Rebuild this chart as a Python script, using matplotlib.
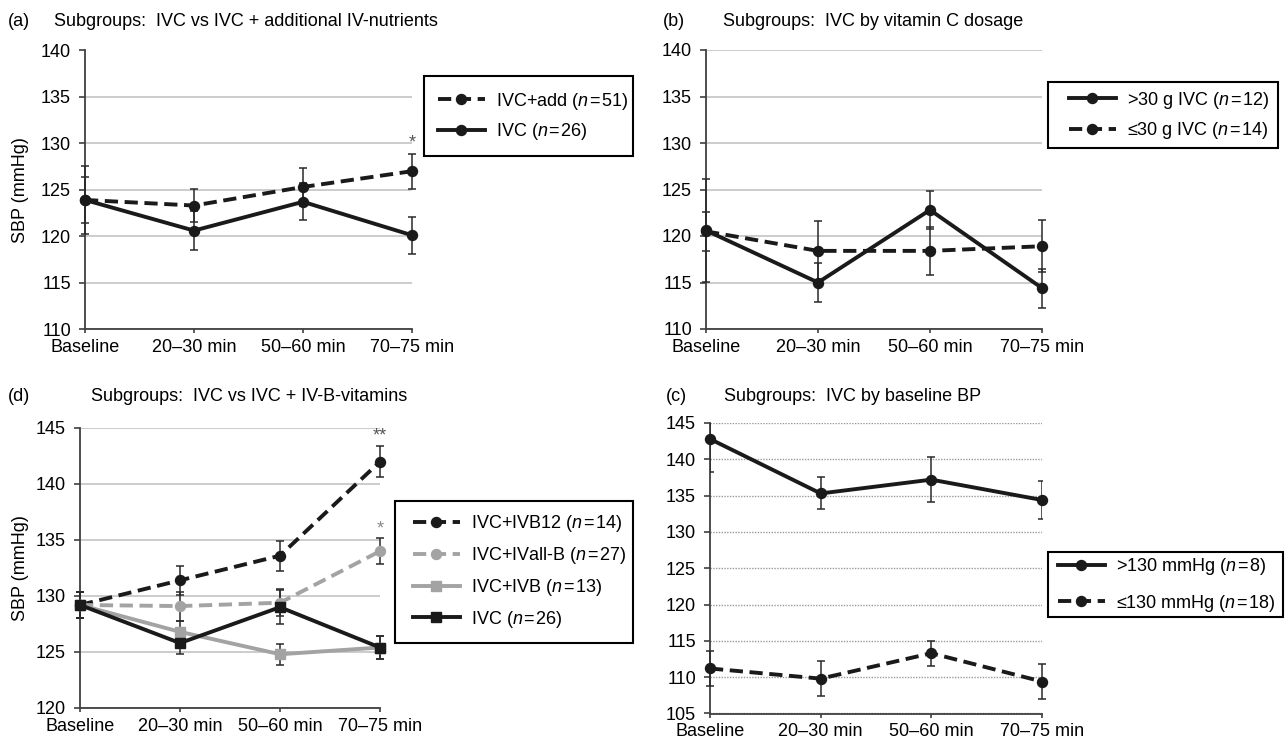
import matplotlib
matplotlib.use("Agg")
import matplotlib.pyplot as plt
from matplotlib.patches import Rectangle

plt.rcParams["font.family"] = ["Liberation Sans", "DejaVu Sans"]
plt.rcParams["mathtext.fontset"] = "custom"
plt.rcParams["mathtext.rm"] = "Liberation Sans"
plt.rcParams["mathtext.it"] = "Liberation Sans:italic"

# ---- data ----
timepoints = ["Baseline", "20\u201330 min", "50\u201360 min", "70\u201375 min"]

# (a) IVC vs IVC + additional IV-nutrients
a_add_mean = [123.9, 123.3, 125.3, 127.0]
a_add_err = [3.7, 1.8, 2.0, 1.9]
a_ivc_mean = [123.9, 120.6, 123.7, 120.1]
a_ivc_err = [2.5, 2.1, 2.0, 2.0]

# (b) IVC by vitamin C dosage
b_high_mean = [120.6, 115.0, 122.8, 114.4]
b_high_err = [5.5, 2.1, 2.0, 2.1]
b_low_mean = [120.5, 118.4, 118.4, 118.9]
b_low_err = [2.1, 3.2, 2.6, 2.8]

# (d) IVC vs IVC + IV-B-vitamins
d_b12_mean = [129.2, 131.4, 133.6, 142.0]
d_b12_err = [1.2, 1.3, 1.35, 1.4]
d_allb_mean = [129.2, 129.1, 129.4, 134.0]
d_allb_err = [1.2, 1.3, 1.2, 1.15]
d_ivb_mean = [129.2, 126.8, 124.8, 125.4]
d_ivb_err = [1.2, 1.0, 0.95, 1.0]
d_ivc_mean = [129.2, 125.8, 129.0, 125.4]
d_ivc_err = [1.2, 1.0, 1.5, 1.0]

# (c) IVC by baseline BP
c_high_mean = [142.8, 135.3, 137.2, 134.4]
c_high_err = [4.5, 2.2, 3.1, 2.6]
c_low_mean = [111.2, 109.8, 113.3, 109.4]
c_low_err = [2.4, 2.4, 1.75, 2.4]

W, H = 1287, 742
BLACK = "#1a1a1a"
GRAY = "#a3a3a3"
FS = 13


def fx(px):
    return px / W


def fy(py):
    return 1 - py / H


def label(name, n):
    return name + " ($n$\u200a=\u200a" + str(n) + ")"


def setup_axes(ax, ylim, grid_style):
    ax.set_xlim(0, 3)
    ax.set_ylim(*ylim)
    ax.set_yticks(range(ylim[0], ylim[1] + 1, 5))
    ax.set_xticks(range(len(timepoints)))
    ax.set_xticklabels(timepoints)
    for side in ("top", "right"):
        ax.spines[side].set_visible(False)
    for side in ("left", "bottom"):
        ax.spines[side].set_color("#404040")
        ax.spines[side].set_linewidth(1.3)
    ax.tick_params(axis="y", length=4, width=1.2, color="#404040", pad=6, labelsize=FS)
    ax.tick_params(axis="x", length=3, width=1.2, color="#404040", pad=4, labelsize=FS)
    if grid_style == "solid":
        ax.yaxis.grid(True, color="#c4c4c4", linewidth=1.2)
    else:
        ax.yaxis.grid(True, color="#9a9a9a", linewidth=1.0, linestyle=(0, (1, 1)))
    ax.set_axisbelow(True)


def draw_series(ax, mean, err, color, ls, marker, clip=False):
    x = range(len(mean))
    ax.errorbar(x, mean, yerr=err, fmt="none", ecolor="#2a2a2a", elinewidth=1.1,
                capsize=2.8, capthick=1.1, clip_on=clip, zorder=3)
    kw = dict(color=color, linewidth=2.8, marker=marker, markersize=7.2,
              markerfacecolor=color, markeredgecolor=color, clip_on=False, zorder=4)
    if ls == "--":
        (line,) = ax.plot(x, mean, linestyle="--", dashes=(3.4, 1.7), **kw)
    else:
        (line,) = ax.plot(x, mean, linestyle="-", **kw)
    return line


def legend_box(ax, handles, labels, box, hx, hy, spacing):
    x0, y0, x1, y1 = box
    ax.figure.add_artist(Rectangle((fx(x0), fy(y1)), (x1 - x0) / W, (y1 - y0) / H,
                                   transform=ax.figure.transFigure, fill=False,
                                   edgecolor="black", linewidth=1.5))
    ax.legend(handles, labels, loc="center left", bbox_to_anchor=(fx(hx), fy(hy)),
              bbox_transform=ax.figure.transFigure, frameon=False, borderpad=0,
              borderaxespad=0, handlelength=2.6, handletextpad=0.6,
              labelspacing=spacing, fontsize=FS)


def panel_title(letter, text, lx, tx, py):
    fig.text(fx(lx), fy(py), letter, fontsize=FS, va="center", ha="left")
    fig.text(fx(tx), fy(py), text, fontsize=FS, va="center", ha="left")


fig = plt.figure(figsize=(W / 100, H / 100), dpi=100)

# ---- (a) ----
ax_a = fig.add_axes([fx(85), fy(329), (412 - 85) / W, (329 - 50.5) / H])
setup_axes(ax_a, (110, 140), "solid")
l_add = draw_series(ax_a, a_add_mean, a_add_err, BLACK, "--", "o")
l_ivc = draw_series(ax_a, a_ivc_mean, a_ivc_err, BLACK, "-", "o")
ax_a.text(3, a_add_mean[3] + a_add_err[3] + 0.2, "*", ha="center", va="bottom",
          fontsize=13, color="#555555")
ax_a.set_ylabel("SBP (mmHg)", fontsize=FS)
ax_a.yaxis.set_label_coords(-0.17, 0.5)
legend_box(ax_a, [l_add, l_ivc], [label("IVC+add", 51), label("IVC", 26)],
           (424, 76, 633, 156), 438, 116.5, 0.55)
panel_title("(a)", "Subgroups:  IVC vs IVC + additional IV-nutrients", 8, 54, 21)

# ---- (b) ----
ax_b = fig.add_axes([fx(706), fy(329), (1042 - 706) / W, (329 - 50) / H])
setup_axes(ax_b, (110, 140), "solid")
l_high = draw_series(ax_b, b_high_mean, b_high_err, BLACK, "-", "o")
l_low = draw_series(ax_b, b_low_mean, b_low_err, BLACK, "--", "o")
legend_box(ax_b, [l_high, l_low], [label(">30 g IVC", 12), label("\u226430 g IVC", 14)],
           (1048, 82, 1278, 148), 1069, 115.5, 0.55)
panel_title("(b)", "Subgroups:  IVC by vitamin C dosage", 663, 723, 21)

# ---- (d) ----
ax_d = fig.add_axes([fx(80), fy(708), (380 - 80) / W, (708 - 428) / H])
setup_axes(ax_d, (120, 145), "solid")
l_b12 = draw_series(ax_d, d_b12_mean, d_b12_err, BLACK, "--", "o")
l_allb = draw_series(ax_d, d_allb_mean, d_allb_err, GRAY, "--", "o")
l_ivb = draw_series(ax_d, d_ivb_mean, d_ivb_err, GRAY, "-", "s")
l_divc = draw_series(ax_d, d_ivc_mean, d_ivc_err, BLACK, "-", "s")
ax_d.text(3, d_b12_mean[3] + d_b12_err[3] + 0.1, "**", ha="center", va="bottom",
          fontsize=13, color="#555555")
ax_d.text(3, d_allb_mean[3] + d_allb_err[3] + 0.1, "*", ha="center", va="bottom",
          fontsize=13, color="#888888")
ax_d.set_ylabel("SBP (mmHg)", fontsize=FS)
ax_d.yaxis.set_label_coords(-0.17, 0.5)
legend_box(ax_d, [l_b12, l_allb, l_ivb, l_divc],
           [label("IVC+IVB12", 14), label("IVC+IVall-B", 27),
            label("IVC+IVB", 13), label("IVC", 26)],
           (395, 501, 633, 643), 413, 571.5, 0.6)
panel_title("(d)", "Subgroups:  IVC vs IVC + IV-B-vitamins", 8, 91, 397)

# ---- (c) ----
ax_c = fig.add_axes([fx(710), fy(713.5), (1042 - 710) / W, (713.5 - 423) / H])
setup_axes(ax_c, (105, 145), "dotted")
l_chigh = draw_series(ax_c, c_high_mean, c_high_err, BLACK, "-", "o", clip=True)
l_clow = draw_series(ax_c, c_low_mean, c_low_err, BLACK, "--", "o")
legend_box(ax_c, [l_chigh, l_clow],
           [label(">130 mmHg", 8), label("\u2264130 mmHg", 18)],
           (1048, 552, 1283, 617), 1058, 585, 0.85)
panel_title("(c)", "Subgroups:  IVC by baseline BP", 666, 724, 397)

fig.savefig("out.png", dpi=100)
